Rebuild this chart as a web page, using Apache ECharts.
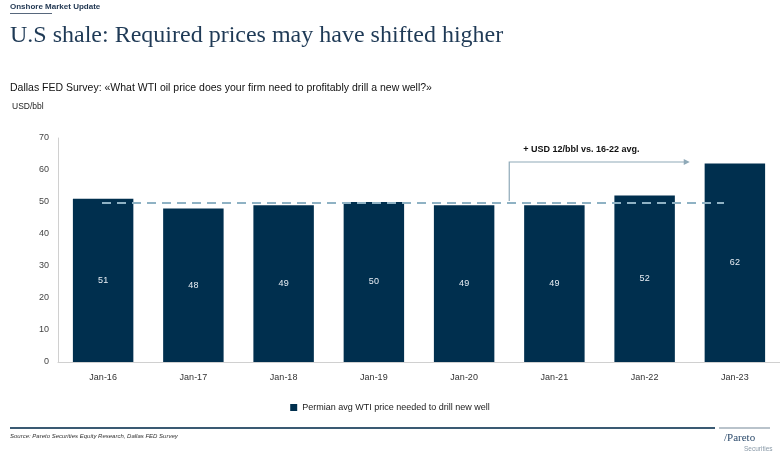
<!DOCTYPE html>
<html><head><meta charset="utf-8">
<script src="https://cdn.jsdelivr.net/npm/echarts@6/dist/echarts.min.js"></script>
<style>html,body{margin:0;padding:0;background:#fff}#c{width:780px;height:459px}</style>
</head><body><div id="c"></div>
<script>
const categories = ['Jan-16','Jan-17','Jan-18','Jan-19','Jan-20','Jan-21','Jan-22','Jan-23'];
const values = [51, 48, 49, 50, 49, 49, 52, 62];
const yTicks = [0, 10, 20, 30, 40, 50, 60, 70];
const seriesName = 'Permian avg WTI price needed to drill new well';
const avgValues = values.slice(0, 7);
const avg = avgValues.reduce((a, b) => a + b, 0) / avgValues.length;
const annotationText = '+ USD 12/bbl vs. 16-22 avg.';

const chart = echarts.init(document.getElementById('c'));
const navy = '#002f4e';
const option = {
  animation: false,
  grid: { left: 58, right: 0, top: 138, bottom: 97 },
  xAxis: {
    type: 'category', data: categories,
    axisLine: { lineStyle: { color: '#d0d0d0' } },
    axisTick: { show: false },
    axisLabel: { color: '#333', fontSize: 9, fontFamily: 'Liberation Sans', margin: 11 }
  },
  yAxis: {
    type: 'value', min: yTicks[0], max: yTicks[yTicks.length - 1], interval: 10,
    axisLine: { show: true, lineStyle: { color: '#d0d0d0' } },
    splitLine: { show: false },
    axisLabel: { color: '#444', fontSize: 9, fontFamily: 'Liberation Sans', margin: 9 }
  },
  legend: {
    bottom: 42, left: 'center', itemWidth: 7, itemHeight: 7, icon: 'rect', itemGap: 4,
    textStyle: { fontSize: 9, color: '#222', fontFamily: 'Liberation Sans' },
    data: [seriesName]
  },
  series: [{
    name: seriesName, type: 'bar', data: values, barCategoryGap: '33%',
    itemStyle: { color: navy },
    label: { show: true, position: 'inside', color: '#e8eef4', fontSize: 9, fontFamily: 'Liberation Sans',
      formatter: p => p.value },
    markLine: {
      silent: true, symbol: 'none',
      lineStyle: { color: '#8fb2c4', width: 2, type: [9, 6] },
      label: { show: false },
      data: [[{ coord: [0, avg], x: 102 }, { coord: [7, avg], x: 724 }]]
    }
  }]
};
chart.setOption(option);

// annotation arrow placed through the chart's own scales
const p = (c, v) => chart.convertToPixel({ gridIndex: 0 }, [c, v]);
const xStart = (p(4, 0)[0] + p(5, 0)[0]) / 2;
const xEnd = (p(6, 0)[0] + p(7, 0)[0]) / 2;
const yBase = p(0, avg)[1];
const yTop = p(0, 62.5)[1];
const yText = p(0, 66.5)[1];
chart.setOption({
  graphic: [
    { id: 'g1', type: 'text', left: 10, top: 3, style: { text: 'Onshore Market Update', fontSize: 8, fontWeight: 'bold', fill: '#1f3550', fontFamily: 'Liberation Sans' } },
    { id: 'g2', type: 'rect', left: 10, top: 13, shape: { width: 42, height: 0.8 }, style: { fill: '#1f3550' } },
    { id: 'g3', type: 'text', left: 10, top: 24, style: { text: 'U.S shale: Required prices may have shifted higher', fontSize: 24, fill: '#1f3a56', fontFamily: 'Liberation Serif' } },
    { id: 'g4', type: 'text', left: 10, top: 83, style: { text: 'Dallas FED Survey: «What WTI oil price does your firm need to profitably drill a new well?»', fontSize: 10.5, fill: '#111', fontFamily: 'Liberation Sans' } },
    { id: 'g5', type: 'text', left: 12, top: 102, style: { text: 'USD/bbl', fontSize: 8.5, fill: '#222', fontFamily: 'Liberation Sans' } },
    { id: 'g6', type: 'rect', left: 10, top: 427, shape: { width: 705, height: 2 }, style: { fill: '#3a5a73' } },
    { id: 'g7', type: 'rect', left: 719, top: 427, shape: { width: 51, height: 2 }, style: { fill: '#b9c3cb' } },
    { id: 'g8', type: 'text', left: 10, top: 433, style: { text: 'Source: Pareto Securities Equity Research, Dallas FED Survey', fontSize: 6, fontStyle: 'italic', fill: '#333', fontFamily: 'Liberation Sans' } },
    { id: 'g9', type: 'text', left: 724, top: 433, style: { text: '/Pareto', fontSize: 11, fill: '#2b4a6b', fontFamily: 'Liberation Serif' } },
    { id: 'g10', type: 'text', left: 744, top: 446, style: { text: 'Securities', fontSize: 6.5, fill: '#8a9aa8', fontFamily: 'Liberation Sans' } },
    { id: 'a1', type: 'polyline', shape: { points: [[xStart, yBase - 2], [xStart, yTop], [xEnd - 4, yTop]] }, style: { stroke: '#8fa9b8', lineWidth: 1.2, fill: null } },
    { id: 'a2', type: 'polygon', shape: { points: [[xEnd, yTop], [xEnd - 6, yTop - 3], [xEnd - 6, yTop + 3]] }, style: { fill: '#8fa9b8' } },
    { id: 'a3', type: 'text', x: xStart + 14, y: yText, style: { text: annotationText, fontSize: 9, fontWeight: 'bold', fill: '#111', fontFamily: 'Liberation Sans', verticalAlign: 'middle' } }
  ]
});
</script></body></html>
